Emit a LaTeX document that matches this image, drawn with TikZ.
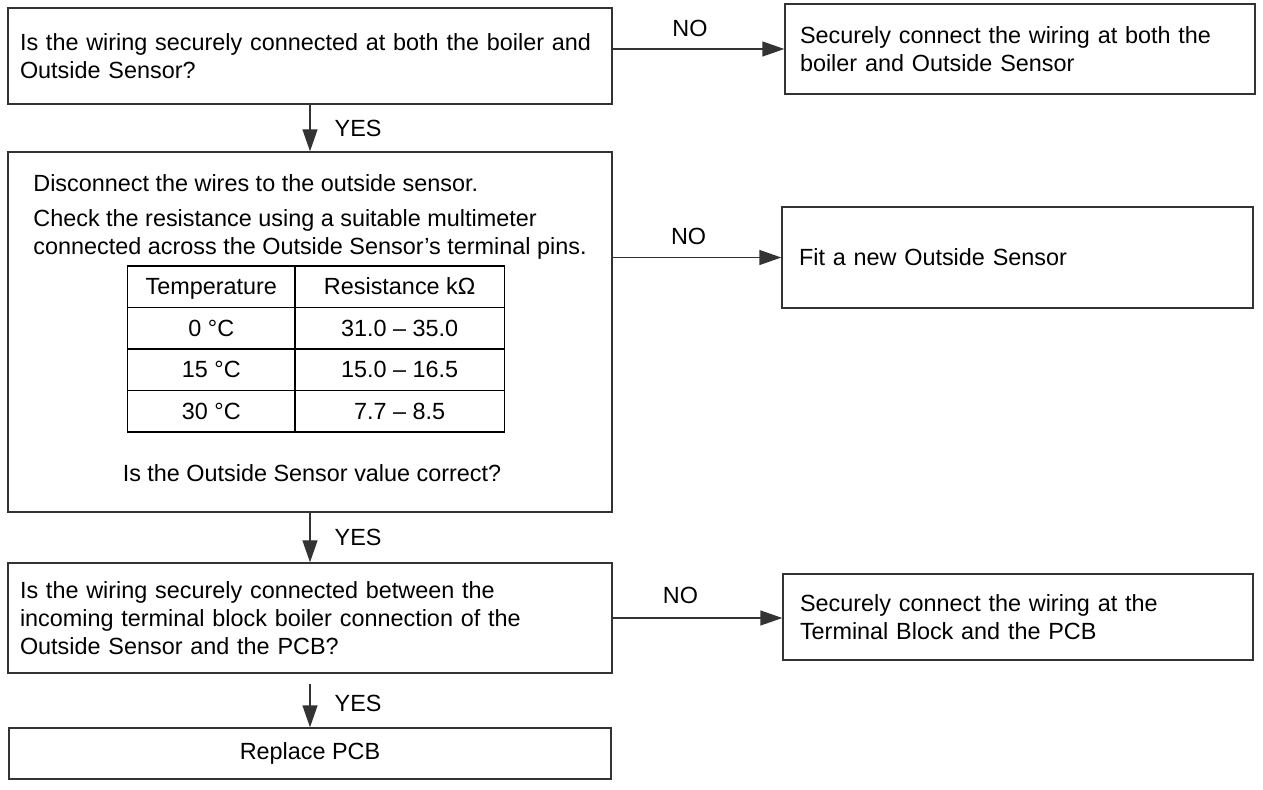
\documentclass[tikz,border=0pt]{standalone}
\usepackage{fontspec}
\usepackage{array}
\setmainfont{Liberation Sans}
\usetikzlibrary{positioning,arrows.meta}
\newcolumntype{C}[1]{>{\centering\arraybackslash}p{#1}}

\begin{document}
\begin{tikzpicture}[x=0.5pt,y=-0.5pt,
    font=\fontsize{11.7}{14}\selectfont,
    box/.style={draw=black!80,line width=0.7pt,rectangle,inner ysep=0pt,align=left},
    flow/.style={draw=black!80,line width=0.7pt,-{Triangle[length=11pt,width=7.5pt]}},
    tag/.style={inner sep=2pt}]
    \useasboundingbox (0,0) rectangle (1263,790);

    % left column
    \node[box,minimum width=302pt,minimum height=48pt,inner xsep=6pt,text width=290pt] (q1) at (310,56)
        {Is the wiring securely connected at both the boiler and\\Outside Sensor?};
    \node[box,minimum width=302pt,minimum height=180pt] (check) at (310,332) {};
    \node[anchor=west,inner sep=0pt] (disc) at (33,183) {Disconnect the wires to the outside sensor.};
    \node[anchor=west,inner sep=0pt,align=left] (meas) at (33,234.5)
        {Check the resistance using a suitable multimeter\\connected across the Outside Sensor’s terminal pins.};
    \node[inner sep=0pt] (tbl) at (316,349) {%
        \setlength{\arrayrulewidth}{0.7pt}\renewcommand{\arraystretch}{1.43}%
        \begin{tabular}{|C{71pt}|C{92pt}|}
        \hline
        Temperature & Resistance kΩ \\ \hline
        0 °C & 31.0 -- 35.0 \\ \hline
        15 °C & 15.0 -- 16.5 \\ \hline
        30 °C & 7.7 -- 8.5 \\ \hline
        \end{tabular}};
    \node[inner sep=0pt] (ask) at (312,473) {Is the Outside Sensor value correct?};
    \node[box,minimum width=302pt,minimum height=55pt,inner xsep=6pt,text width=290pt] (q3) at (310,618)
        {Is the wiring securely connected between the\\incoming terminal block boiler connection of the\\Outside Sensor and the PCB?};
    \node[box,minimum width=301pt,minimum height=25.5pt,align=center] (pcb) at (310,753.5) {Replace PCB};

    % right column
    \node[box,minimum width=235pt,minimum height=45pt,inner xsep=7.5pt,text width=220pt] (q1no) at (1020,49)
        {Securely connect the wiring at both the\\boiler and Outside Sensor};
    \node[box,minimum width=235.5pt,minimum height=50.5pt,inner xsep=8.5pt,text width=218.5pt] (newsensor) at (1017.5,257.5)
        {Fit a new Outside Sensor};
    \node[box,minimum width=235pt,minimum height=43pt,inner xsep=8.5pt,text width=218pt] (q3no) at (1018,617)
        {Securely connect the wiring at the\\Terminal Block and the PCB};

    % connectors
    \coordinate (q3out) at ([yshift=-5pt]q3.south);
    \draw[flow] (q1.east |- q1no.west) -- node[tag,above=4pt,pos=0.45] {NO} (q1no.west);
    \draw[flow] (q1) -- node[tag,right=10pt] {YES} (check);
    \draw[flow] (newsensor.west -| check.east) -- node[tag,above=4pt,pos=0.45] {NO} (newsensor.west);
    \draw[flow] (check) -- node[tag,right=10pt] {YES} (q3);
    \draw[flow] (q3.east) -- node[tag,above=5pt,pos=0.4] {NO} (q3.east -| q3no.west);
    \draw[flow] (q3out) -- node[tag,right=10pt,pos=0.45] {YES} (pcb);
\end{tikzpicture}
\end{document}
